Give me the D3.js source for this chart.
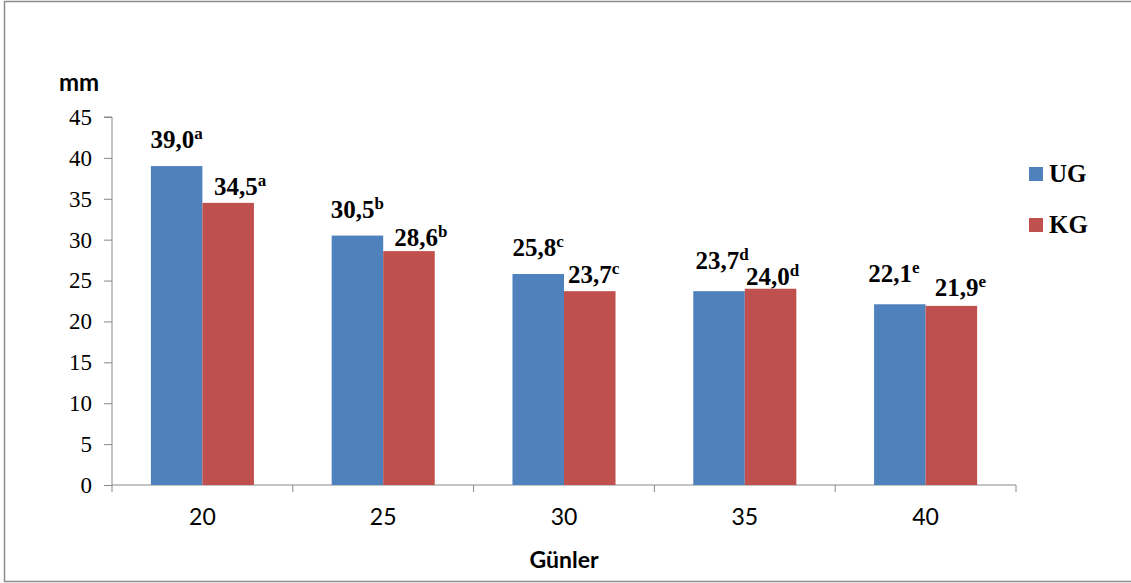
<!DOCTYPE html>
<html>
<head>
<meta charset="utf-8">
<script src="https://cdn.jsdelivr.net/npm/d3@7"></script>
<style>
  html, body { margin: 0; padding: 0; background: #fff; }
  svg { display: block; }
</style>
</head>
<body>
<svg id="chart" width="1131" height="583"></svg>
<script>
// Days (x categories)
const days = ["20", "25", "30", "35", "40"];
// Series values (mm)
const ugValues = [39.0, 30.5, 25.8, 23.7, 22.1];
const kgValues = [34.5, 28.6, 23.7, 24.0, 21.9];
// Significance letters
const ugLetters = ["a", "b", "c", "d", "e"];
const kgLetters = ["a", "b", "c", "d", "e"];
const seriesNames = ["UG", "KG"];
const yTicks = [0, 5, 10, 15, 20, 25, 30, 35, 40, 45];

// Label nudges (px) relative to the default spot above each bar
const ugNudge = [[0, 0], [0, 0], [0, 0], [3, -4], [-6, -4]];
const kgNudge = [[12, 10], [12, 13], [4, 10], [2, 14], [9, 8]];

const colors = { UG: "#4F81BD", KG: "#C0504D" };
const SERIF = "'Liberation Serif', 'Times New Roman', Times, serif";
const SANS = "Lato, 'Open Sans', sans-serif";

const svg = d3.select("#chart");
const left = 112, right = 1016;

// Outer frame
svg.append("rect")
  .attr("x", 4.5).attr("y", 1.5)
  .attr("width", 1140).attr("height", 580)
  .attr("fill", "none").attr("stroke", "#8c8c8c").attr("stroke-width", 1.5);

const x = d3.scaleBand()
  .domain(days)
  .range([left, right])
  .paddingInner(0.43)
  .paddingOuter(0.215);

const xs = d3.scaleBand()
  .domain(seriesNames)
  .range([0, x.bandwidth()]);

const y = d3.scaleLinear()
  .domain([0, 45])
  .range([485, 117]);

// Y axis
const yAxis = d3.axisLeft(y).tickValues(yTicks).tickSize(8).tickPadding(12);
const gy = svg.append("g").attr("transform", `translate(${left},0)`).call(yAxis);
gy.attr("font-family", SERIF).attr("font-size", 23);
gy.select(".domain").attr("stroke", "#888").attr("d", `M-8,${y(45)}H0V${y(0)}`);
gy.selectAll(".tick line").attr("stroke", "#888");
gy.selectAll(".tick text")
  .style("font-family", SERIF)
  .style("font-size", "23px").attr("fill", "#000");

// X axis
const xAxis = d3.axisBottom(x).tickSize(0).tickPadding(24);
const gx = svg.append("g").attr("transform", `translate(0,${y(0)})`).call(xAxis);
gx.attr("font-family", SANS).attr("font-size", 23);
gx.select(".domain").attr("stroke", "#888").attr("d", `M${left},0H${right}`);
gx.selectAll(".tick text")
  .style("font-family", SANS)
  .style("font-size", "23px").attr("fill", "#000");
// Category separators
const step = x.step();
const bounds = d3.range(days.length + 1).map(i => left + i * step);
gx.selectAll("line.sep").data(bounds).enter().append("line")
  .attr("class", "sep")
  .attr("x1", d => d).attr("x2", d => d)
  .attr("y1", 0).attr("y2", 7)
  .attr("stroke", "#888");

// Bars
const rows = days.map((d, i) => ({ day: d, i, UG: ugValues[i], KG: kgValues[i] }));
const groups = svg.append("g").selectAll("g").data(rows).enter().append("g")
  .attr("transform", d => `translate(${x(d.day)},0)`);
groups.selectAll("rect").data(d => seriesNames.map(s => ({ s, v: d[s] })))
  .enter().append("rect")
  .attr("x", d => xs(d.s))
  .attr("width", xs.bandwidth())
  .attr("y", d => y(d.v))
  .attr("height", d => y(0) - y(d.v))
  .attr("fill", d => colors[d.s]);

// Value labels
const fmt = v => v.toFixed(1).replace(".", ",");
const labels = [];
days.forEach((d, i) => {
  labels.push({ s: "UG", v: ugValues[i], letter: ugLetters[i], nudge: ugNudge[i], day: d });
  labels.push({ s: "KG", v: kgValues[i], letter: kgLetters[i], nudge: kgNudge[i], day: d });
});
const lab = svg.append("g").selectAll("text").data(labels).enter().append("text")
  .style("font-family", SERIF)
  .attr("x", d => x(d.day) + xs(d.s) + xs.bandwidth() / 2 + d.nudge[0])
  .attr("y", d => y(d.v) - 18 + d.nudge[1])
  .attr("text-anchor", "middle")
  .style("font-weight", "bold")
  .style("font-size", "25px")
  .attr("fill", "#000");
lab.append("tspan").text(d => fmt(d.v));
lab.append("tspan").text(d => d.letter)
  .style("font-size", "17px").attr("dy", -9);

// Axis titles
svg.append("text").style("font-family", SANS).attr("x", 79).attr("y", 91)
  .attr("text-anchor", "middle")
  .style("font-weight", "bold").style("font-size", "24px")
  .attr("fill", "#000").text("mm");
svg.append("text").style("font-family", SANS).attr("x", 564).attr("y", 568)
  .attr("text-anchor", "middle")
  .style("font-weight", "bold").style("font-size", "23px")
  .attr("fill", "#000").text("Günler");

// Legend
const legend = svg.append("g").selectAll("g").data(seriesNames).enter().append("g")
  .attr("transform", (d, i) => `translate(1029,${167 + i * 51})`);
legend.append("rect").attr("width", 14).attr("height", 14)
  .attr("fill", d => colors[d]);
legend.append("text").style("font-family", SERIF).attr("x", 20).attr("y", 15)
  .style("font-weight", "bold").style("font-size", "25px")
  .attr("fill", "#000").text(d => d);
</script>
</body>
</html>
